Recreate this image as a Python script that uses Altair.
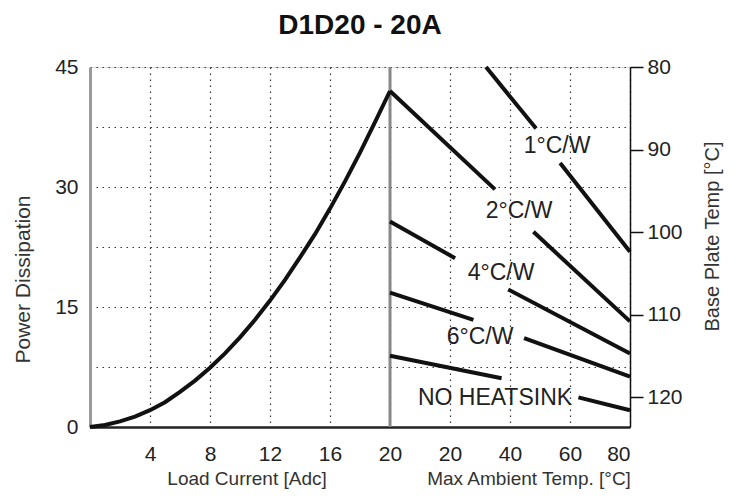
import altair as alt
import pandas as pd

# ---- data ----
current = [0, 1, 2, 3, 4, 5, 6, 7, 8, 9, 10, 11, 12, 13, 14, 15, 16, 17, 18, 19, 20]
power = [0, 0.25, 0.7, 1.3, 2.1, 3.1, 4.4, 5.8, 7.4, 9.2, 11.2, 13.4, 15.8, 18.4,
         21.2, 24.1, 27.3, 30.7, 34.3, 38.1, 42.0]

rating_names = ["1°C/W", "2°C/W", "4°C/W", "6°C/W", "NO HEATSINK"]
# each derating line: start, label-gap start, label-gap end, end  (ambient temp, power)
line_temp = [[32, 48.7, 56.7, 80], [0, 35, 47.8, 80], [0, 21.7, 39.4, 80],
             [0, 27.8, 44.7, 80], [0, 37.2, 62.8, 80]]
line_power = [[45, 37.3, 33.0, 21.9], [42, 29.7, 24.4, 13.2], [25.7, 21.1, 17.2, 9.2],
              [16.8, 13.4, 11.1, 6.3], [8.9, 6.1, 3.7, 2.1]]
label_temp = [55.7, 43, 37, 30, 35]
label_power = [34.3, 26.1, 18.4, 10.4, 2.75]

current_ticks = [4, 8, 12, 16, 20]
temp_ticks = [20, 40, 60, 80]
power_ticks = [0, 7.5, 15, 22.5, 30, 37.5, 45]
plate_ticks = [80, 90, 100, 110, 120]
plate_domain = [80, 123.6]

# ---- tables ----
curve_df = pd.DataFrame({"x": current, "P": power})
rows = []
for name, ts, ps in zip(rating_names, line_temp, line_power):
    for seg, idx in ((0, (0, 1)), (1, (2, 3))):
        for i in idx:
            rows.append({"name": name, "seg": f"{name}-{seg}", "T": ts[i], "P": ps[i]})
lines_df = pd.DataFrame(rows)
labels_df = pd.DataFrame({"name": rating_names, "T": label_temp, "P": label_power})
axis_titles_df = pd.DataFrame({"text": ["Load Current  [Adc]", "Max Ambient Temp. [°C]"],
                               "x": [10.47, 29.27]})
plate_df = pd.DataFrame({"temp": plate_domain})

FONT = "Liberation Sans"
x_ticks_all = current_ticks + [20 + t / 5 for t in temp_ticks]

x_enc = alt.X(
    "x:Q",
    scale=alt.Scale(domain=[0, 36], nice=False),
    axis=alt.Axis(
        values=x_ticks_all,
        labelExpr="datum.value <= 20 ? datum.label : format((datum.value - 20) * 5, 'd')",
        title=None, grid=True, gridDash=[1.5, 4.5], gridColor="#333", gridWidth=1.2,
        ticks=False, labelPadding=16, domainColor="#222", domainWidth=2.5,
        labelFontSize=21, labelColor="#222", labelFont=FONT,
    ),
)
y_enc = alt.Y(
    "P:Q",
    scale=alt.Scale(domain=[0, 45], nice=False),
    axis=alt.Axis(
        values=power_ticks,
        labelExpr="datum.value % 15 == 0 ? datum.label : ''",
        title="Power Dissipation", titleX=-67, titleY=212, titleAngle=270,
        titleBaseline="middle", titleAlign="center", titleFontSize=21,
        titleFontWeight="normal", titleColor="#333", titleFont=FONT,
        grid=True, gridDash=[1.5, 4.5], gridColor="#333", gridWidth=1.2,
        ticks=False, labelPadding=12, domainColor="#999", domainWidth=3,
        labelFontSize=21, labelColor="#222", labelFont=FONT,
    ),
)

divider = alt.Chart(pd.DataFrame({"x": [20]})).mark_rule(
    color="#888", strokeWidth=3
).encode(x=x_enc)

curve = alt.Chart(curve_df).mark_line(color="#111", strokeWidth=4).encode(
    x=x_enc, y=y_enc
)

derate = alt.Chart(lines_df).transform_calculate(
    x="20 + datum.T / 5"
).mark_line(color="#111", strokeWidth=4).encode(
    x=x_enc, y=y_enc, detail="seg:N"
)

labels = alt.Chart(labels_df).transform_calculate(
    x="20 + datum.T / 5"
).mark_text(
    font=FONT, fontSize=23, color="#222", align="center", baseline="alphabetic"
).encode(x=x_enc, y=y_enc, text="name:N")

axis_titles = alt.Chart(axis_titles_df).mark_text(
    font=FONT, fontSize=19, color="#333", align="center", baseline="middle"
).encode(x=x_enc, y=alt.value(412), text="text:N")

main = alt.layer(divider, curve, derate, labels, axis_titles)

plate_axis = alt.Chart(plate_df).mark_point(opacity=0).encode(
    x=alt.value(0),
    y=alt.Y(
        "temp:Q",
        scale=alt.Scale(domain=plate_domain, reverse=True, nice=False),
        axis=alt.Axis(
            orient="right", values=plate_ticks, grid=False,
            tickSize=13, tickColor="#111", tickWidth=1.5,
            domainColor="#111", domainWidth=1.5, labelPadding=4,
            labelFontSize=21, labelColor="#222", labelFont=FONT,
            title="Base Plate Temp [°C]", titleX=82, titleY=169, titleAngle=270,
            titleBaseline="middle", titleAlign="center", titleFontSize=20,
            titleFontWeight="normal", titleColor="#333", titleFont=FONT,
        ),
    ),
)

chart = alt.layer(main, plate_axis).resolve_scale(y="independent").properties(
    width=540,
    height=360,
    autosize=alt.AutoSizeParams(type="none"),
    padding={"left": 82, "top": 59, "right": 98, "bottom": 64},
    title=alt.Title(
        "D1D20 - 20A", fontSize=28, fontWeight="bold", font=FONT, color="#111",
        anchor="middle", offset=16,
    ),
).configure_view(stroke=None).configure(background="white")

chart.save("out.html", embed_options={"renderer": "svg", "actions": False})
